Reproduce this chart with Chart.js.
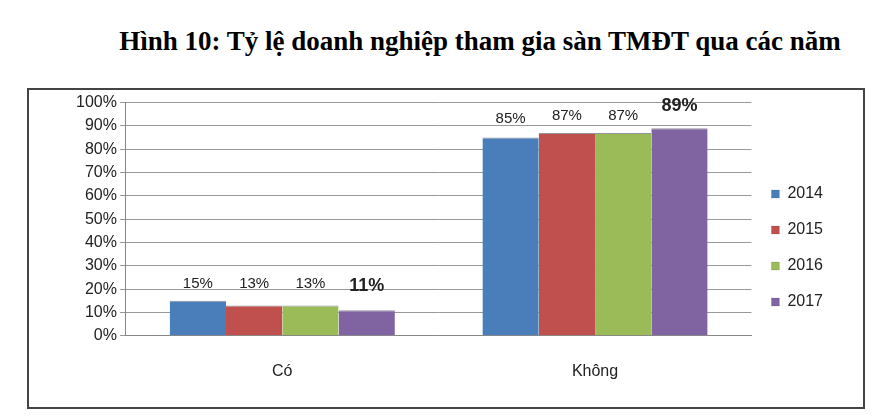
<!DOCTYPE html>
<html><head><meta charset="utf-8">
<script src="https://cdn.jsdelivr.net/npm/chart.js"></script>
<style>
body{margin:0;background:#fff;width:888px;height:415px;position:relative;overflow:hidden}
#t{position:absolute;left:60px;top:26px;width:840px;text-align:center;font:bold 27px "Liberation Serif",serif;color:#000}
#box{position:absolute;left:27px;top:88px;width:834px;height:317px;border:2px solid #444}
</style></head><body>
<div id="t">Hình 10: Tỷ lệ doanh nghiệp tham gia sàn TMĐT qua các năm</div>
<div id="box"><canvas id="c" width="834" height="317"></canvas></div>
<script>
const categories=["Có","Không"];
const years=["2014","2015","2016","2017"];
const v2014=[15,85];
const v2015=[13,87];
const v2016=[13,87];
const v2017=[11,89];
const colors=["#4a7ebb","#c0504d","#9bbb59","#8064a2"];
const yTicks=[0,10,20,30,40,50,60,70,80,90,100];
const series=[v2014,v2015,v2016,v2017];
const labelPlugin={id:'lbl',afterDatasetsDraw(ch){const c=ch.ctx;ch.data.datasets.forEach((d,i)=>{ch.getDatasetMeta(i).data.forEach((b,j)=>{const bold=i===3;c.save();c.font=(bold?'bold 18px':'15px')+' "Liberation Sans",Arial';c.fillStyle='#222';c.textAlign='center';c.textBaseline='bottom';c.fillText(d.data[j]+'%',b.x,j===0?(ch.scales.y.getPixelForValue(20)+(bold?6:2)):(bold?ch.scales.y.getPixelForValue(100)+12:ch.scales.y.getPixelForValue(90)-(i===0?0:3)));c.restore();});});}};
new Chart(document.getElementById('c'),{type:'bar',
data:{labels:categories,datasets:series.map((s,i)=>({label:years[i],data:s,backgroundColor:colors[i],borderColor:'rgba(40,40,60,0.5)',borderWidth:{top:1,left:0,right:0,bottom:0},categoryPercentage:0.72,barPercentage:1}))},
options:{responsive:false,animation:false,layout:{padding:{left:44,right:30,top:7,bottom:8}},
plugins:{legend:{position:'right',labels:{boxWidth:8,boxHeight:8,padding:20,font:{family:'"Liberation Sans",Arial',size:16},color:'#222'}},tooltip:{enabled:false}},
scales:{x:{grid:{display:false},border:{color:'#888'},ticks:{font:{family:'"Liberation Sans",Arial',size:16},color:'#222',padding:18}},
y:{min:0,max:100,afterBuildTicks(a){a.ticks=yTicks.map(v=>({value:v}));},grid:{color:'#999',tickLength:6},border:{color:'#888'},ticks:{font:{family:'"Liberation Sans",Arial',size:16},color:'#222',callback:v=>v+'%'}}}},
plugins:[labelPlugin]});
</script></body></html>
